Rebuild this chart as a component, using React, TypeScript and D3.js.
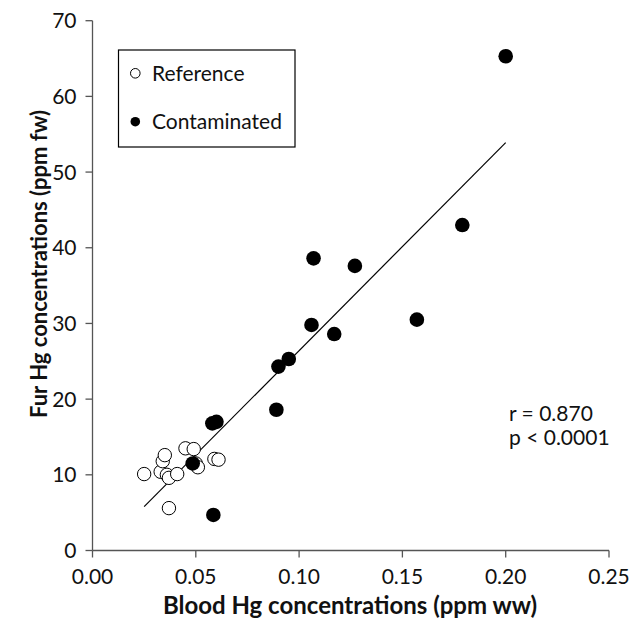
import React from "react";
import * as d3 from "d3";

// blood Hg (ppm ww) vs fur Hg (ppm fw)
const referenceBlood = [0.025, 0.033, 0.034, 0.035, 0.036, 0.037, 0.041, 0.045, 0.049, 0.050, 0.051, 0.059, 0.061, 0.037];
const referenceFur = [10.1, 10.4, 11.8, 12.6, 10.0, 9.6, 10.1, 13.5, 13.4, 11.5, 11.0, 12.1, 12.0, 5.6];

const contamBlood = [0.200, 0.179, 0.107, 0.127, 0.157, 0.106, 0.117, 0.095, 0.090, 0.089, 0.058, 0.060, 0.0485, 0.0585];
const contamFur = [65.3, 43.0, 38.6, 37.6, 30.5, 29.8, 28.6, 25.3, 24.3, 18.6, 16.8, 17.0, 11.5, 4.7];

// fitted line as drawn in the figure
const fitSlope = 274.9;
const fitIntercept = -1.08;
const fitRange = [0.025, 0.2];

const xTicks = [0, 0.05, 0.1, 0.15, 0.2, 0.25];
const yTicks = [0, 10, 20, 30, 40, 50, 60, 70];

const legendLabels = ["Reference", "Contaminated"];
const statLines = ["r = 0.870", "p < 0.0001"];

const W = 632;
const H = 622;
const FONT = "Lato, 'Open Sans', sans-serif";
const AXIS = "#555";

export default function App() {
  const x = d3.scaleLinear().domain([0, 0.25]).range([92.5, 609]);
  const y = d3.scaleLinear().domain([0, 70]).range([550.5, 20.7]);

  const refPts = referenceBlood.map((b, i) => ({ b, f: referenceFur[i] }));
  const conPts = contamBlood.map((b, i) => ({ b, f: contamFur[i] }));

  const line = d3
    .line<number>()
    .x((d) => x(d))
    .y((d) => y(fitSlope * d + fitIntercept));

  return (
    <svg
      width={W}
      height={H}
      style={{ position: "absolute", left: 0, top: 0, background: "#fff" }}
      fontFamily={FONT}
    >
      {/* axes */}
      <line x1={x(0)} x2={x(0.25)} y1={y(0)} y2={y(0)} stroke={AXIS} strokeWidth={1.3} />
      <line x1={x(0)} x2={x(0)} y1={y(0)} y2={y(70)} stroke={AXIS} strokeWidth={1.3} />
      {xTicks.map((t) => (
        <g key={"x" + t}>
          <line x1={x(t)} x2={x(t)} y1={y(0)} y2={y(0) + 7} stroke={AXIS} strokeWidth={1.3} />
          <text x={x(t)} y={y(0) + 33} textAnchor="middle" fontSize={21} fill="#111">
            {t.toFixed(2)}
          </text>
        </g>
      ))}
      {yTicks.map((t) => (
        <g key={"y" + t}>
          <line x1={x(0) - 7} x2={x(0)} y1={y(t)} y2={y(t)} stroke={AXIS} strokeWidth={1.3} />
          <text x={x(0) - 16} y={y(t) + 7.5} textAnchor="end" fontSize={21} fill="#111">
            {t}
          </text>
        </g>
      ))}
      <text x={350} y={614} textAnchor="middle" fontSize={24} fontWeight="bold" fill="#111">
        Blood Hg concentrations (ppm ww)
      </text>
      <text
        transform={`translate(47,264) rotate(-90)`}
        textAnchor="middle"
        fontSize={22}
        fontWeight="bold"
        fill="#111"
      >
        Fur Hg concentrations (ppm fw)
      </text>

      {/* fit */}
      <path d={line(fitRange) || ""} fill="none" stroke="#000" strokeWidth={1.2} />

      {/* points */}
      {refPts.map((p, i) => (
        <circle key={"r" + i} cx={x(p.b)} cy={y(p.f)} r={6.7} fill="#fff" stroke="#000" strokeWidth={1} />
      ))}
      {conPts.map((p, i) => (
        <circle key={"c" + i} cx={x(p.b)} cy={y(p.f)} r={7.3} fill="#000" />
      ))}

      {/* legend */}
      <rect x={118.5} y={50} width={176.5} height={97} fill="#fff" stroke="#000" strokeWidth={1.2} />
      <circle cx={135.3} cy={73.3} r={4.8} fill="#fff" stroke="#000" strokeWidth={1} />
      <circle cx={135.3} cy={121.7} r={4.8} fill="#000" />
      {legendLabels.map((l, i) => (
        <text key={l} x={152} y={81 + i * 48.4} fontSize={21} fill="#111">
          {l}
        </text>
      ))}

      {/* stats */}
      {statLines.map((s, i) => (
        <text key={s} x={509} y={420.7 + i * 24.5} fontSize={21} fill="#111">
          {s}
        </text>
      ))}
    </svg>
  );
}
